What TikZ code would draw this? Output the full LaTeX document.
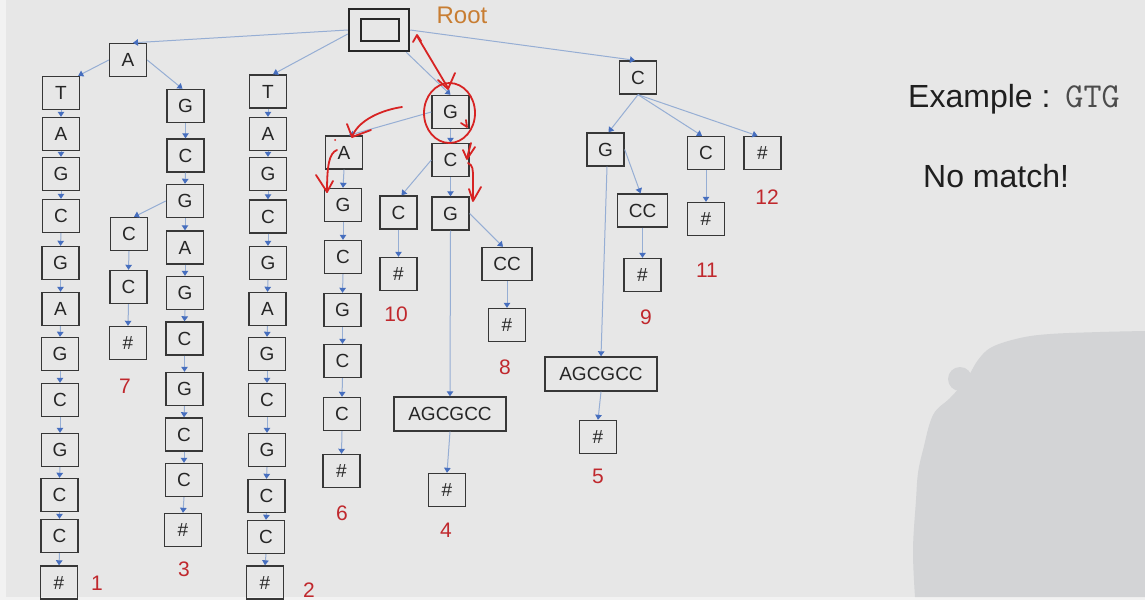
\documentclass[tikz,border=0pt]{standalone}
\usepackage{fontspec}
\setmainfont{Liberation Sans}
\usetikzlibrary{arrows.meta,calc}
\definecolor{bg}{RGB}{231,231,231}
\definecolor{edgebg}{RGB}{242,242,242}
\definecolor{blobc}{RGB}{211,212,214}
\definecolor{lineblue}{RGB}{150,174,212}
\definecolor{tipblue}{RGB}{70,110,190}
\definecolor{boxc}{RGB}{55,55,55}
\definecolor{numred}{RGB}{192,40,45}
\definecolor{penred}{RGB}{215,35,35}
\definecolor{rootor}{RGB}{200,125,50}
\begin{document}
\begin{tikzpicture}[x=1pt,y=-1pt,
  bx/.style={draw=boxc,line width=1.4pt,minimum width=37pt,minimum height=33pt,inner sep=0pt,font=\fontsize{19}{21}\selectfont,text=black!85},
  wbx/.style={bx,minimum width=50pt},
  lbx/.style={bx,minimum width=112pt,minimum height=34pt},
  edge/.style={draw=lineblue,line width=1pt,-{Triangle[width=6.5pt,length=5pt,color=tipblue]}},
  num/.style={text=numred,font=\fontsize{21}{24}\selectfont,inner sep=0pt},
  pen/.style={draw=penred,line width=1.8pt,line cap=round,line join=round}]
% background
\fill[bg] (0,0) rectangle (1145,600);
\useasboundingbox (0,0) rectangle (1145,600);
\fill[edgebg] (0,0) rectangle (6,600);
\fill[edgebg] (0,597) rectangle (1145,600);
% blob
\fill[blobc] plot[smooth,tension=0.6] coordinates {(1145,331) (1100,332) (1050,334) (1020,338) (992,347) (978,360) (966,380) (950,398) (933,415) (923,450) (918,473) (916,500) (913,550) (915,597)} -- (1145,597) -- cycle;
\fill[blobc] (960,379) circle (12);

% root
\node[draw=black!85,line width=2.5pt,minimum width=60pt,minimum height=42pt,inner sep=0pt] (root) at (379,30) {};
\node[draw=black!85,line width=2.2pt,minimum width=38pt,minimum height=22pt,inner sep=0pt] (rin) at (380,30) {};
\node[text=rootor,font=\fontsize{24}{26}\selectfont,inner sep=0pt] (rootlbl) at (462,15) {Root};

% level-1 nodes
\node[bx] (A1) at (128,60) {A};

% column 1
\node[bx] (p1) at (61,93) {T};
\node[bx] (p2) at (61,134) {A};
\node[bx] (p3) at (61,174) {G};
\node[bx] (p4) at (61,216) {C};
\node[bx] (p5) at (60.5,263) {G};
\node[bx] (p6) at (60.5,309) {A};
\node[bx] (p7) at (60,354) {G};
\node[bx] (p8) at (60,400) {C};
\node[bx] (p9) at (60,450) {G};
\node[bx] (p10) at (59.5,495) {C};
\node[bx] (p11) at (59.5,536) {C};
\node[bx] (p12) at (59,582.5) {\#};
\foreach \i/\j in {1/2,2/3,3/4,4/5,5/6,6/7,7/8,8/9,9/10,10/11,11/12}
  \draw[edge] (p\i.south) -- (p\j.north);

% column 2
\node[bx] (q1) at (268,91.5) {T};
\node[bx] (q2) at (268,134) {A};
\node[bx] (q3) at (268,174) {G};
\node[bx] (q4) at (268,216.5) {C};
\node[bx] (q5) at (268,263) {G};
\node[bx] (q6) at (267.5,309) {A};
\node[bx] (q7) at (267,354) {G};
\node[bx] (q8) at (267,400) {C};
\node[bx] (q9) at (267,450) {G};
\node[bx] (q10) at (266.5,496) {C};
\node[bx] (q11) at (266,537) {C};
\node[bx] (q12) at (265,582.5) {\#};
\foreach \i/\j in {1/2,2/3,3/4,4/5,5/6,6/7,7/8,8/9,9/10,10/11,11/12}
  \draw[edge] (q\i.south) -- (q\j.north);

% column 3
\node[bx] (r1) at (185.5,106) {G};
\node[bx] (r2) at (185.5,155.5) {C};
\node[bx] (r3) at (185,201) {G};
\node[bx] (r4) at (185,247.5) {A};
\node[bx] (r5) at (185,293) {G};
\node[bx] (r6) at (184.5,338.5) {C};
\node[bx] (r7) at (184.5,389) {G};
\node[bx] (r8) at (184,434.5) {C};
\node[bx] (r9) at (184,480) {C};
\node[bx] (r10) at (183,530) {\#};
\foreach \i/\j in {1/2,2/3,3/4,4/5,5/6,6/7,7/8,8/9,9/10}
  \draw[edge] (r\i.south) -- (r\j.north);

% column 3b
\node[bx] (s1) at (129,234) {C};
\node[bx] (s2) at (128.5,287) {C};
\node[bx] (s3) at (128,343) {\#};
\draw[edge] (s1.south) -- (s2.north);
\draw[edge] (s2.south) -- (s3.north);

% column 4
\node[bx] (u1) at (344,152.5) {A};
\node[bx] (u2) at (343,205) {G};
\node[bx] (u3) at (343,257) {C};
\node[bx] (u4) at (342.5,310) {G};
\node[bx] (u5) at (342.5,361) {C};
\node[bx] (u6) at (342,414) {C};
\node[bx] (u7) at (341.5,471) {\#};
\foreach \i/\j in {1/2,2/3,3/4,4/5,5/6,6/7}
  \draw[edge] (u\i.south) -- (u\j.north);

% middle subtree
\node[bx] (Gm) at (450.5,112) {G};
\node[bx] (Cm) at (450.5,160) {C};
\node[bx] (Gm2) at (450.5,213.5) {G};
\node[bx] (Cb) at (398.5,212.5) {C};
\node[bx] (hb) at (398.5,274) {\#};
\node[wbx] (CC8) at (507,264) {CC};
\node[bx] (h8) at (507,325) {\#};
\node[lbx] (AG4) at (450,414) {AGCGCC};
\node[bx] (h4) at (447,490) {\#};

% right subtree
\node[bx] (Cr) at (638,77.5) {C};
\node[bx] (Gr) at (605.5,149.5) {G};
\node[bx] (C2) at (706,153) {C};
\node[bx] (h12) at (762.5,153) {\#};
\node[wbx] (CCr) at (642.5,210.5) {CC};
\node[bx] (h9) at (642.5,275) {\#};
\node[bx] (h11) at (706,219) {\#};
\node[lbx] (AGr) at (601,374) {AGCGCC};
\node[bx] (h5) at (598,437) {\#};

% edges from root and branches
\draw[edge] (root.west) -- ([xshift=5pt]A1.north);
\draw[edge] ([yshift=-4pt]root.west) -- ([xshift=5pt]q1.north);
\draw[edge] ([xshift=-4pt]root.south east) -- (Gm.north);
\draw[edge] (root.east) -- ([xshift=-3pt]Cr.north);
\draw[edge] (A1.west) -- ([xshift=-2pt]p1.north east);
\draw[edge] (A1.east) -- ([xshift=-3pt]r1.north);
\draw[edge] (r3.west) -- ([xshift=5pt]s1.north);
\draw[edge] (Gm.west) -- ([xshift=5pt]u1.north);
\draw[edge] (Gm.south) -- (Cm.north);
\draw[edge] (Cm.west) -- ([xshift=3pt]Cb.north);
\draw[edge] (Cm.south) -- (Gm2.north);
\draw[edge] (Cb.south) -- (hb.north);
\draw[edge] (Gm2.east) -- ([xshift=-4pt]CC8.north);
\draw[edge] (CC8.south) -- (h8.north);
\draw[edge] (Gm2.south) -- (AG4.north);
\draw[edge] (AG4.south) -- (h4.north);
\draw[edge] (Cr.south) -- ([xshift=3pt]Gr.north);
\draw[edge] (Cr.south) -- ([xshift=-4pt]C2.north);
\draw[edge] (Cr.south) -- ([xshift=-5pt]h12.north);
\draw[edge] (Gr.east) -- ([xshift=-2pt]CCr.north);
\draw[edge] (CCr.south) -- (h9.north);
\draw[edge] (C2.south) -- (h11.north);
\draw[edge] ([xshift=1.5pt]Gr.south) -- (AGr.north);
\draw[edge] (AGr.south) -- (h5.north);

% leaf numbers
\node[num] (n1) at (97,583) {1};
\node[num] (n2) at (309,590) {2};
\node[num] (n3) at (184,569) {3};
\node[num] (n4) at (446,530) {4};
\node[num] (n5) at (598,476) {5};
\node[num] (n6) at (342,513) {6};
\node[num] (n7) at (125,386) {7};
\node[num] (n8) at (505,367) {8};
\node[num] (n9) at (646,317) {9};
\node[num] (n10) at (396,314) {10};
\node[num] (n11) at (707,270) {11};
\node[num] (n12) at (767,197) {12};

% right-hand text
\node[anchor=base west,inner sep=0pt,text=black!88,font=\fontsize{32}{36}\selectfont] (ex) at (908,107) {Example :\hspace{15pt}{\ttfamily\fontsize{35}{36}\selectfont\color{black!70}GTG}};
\node[anchor=base west,inner sep=0pt,text=black!88,font=\fontsize{32}{36}\selectfont] (nm) at (923,187) {No match!};

% red pen annotations
\draw[pen] (417,36) -- (448,88);
\draw[pen] (413,42) -- (417,35) -- (421,41);
\draw[pen] (438,80) -- (448,89) -- (455,73);
\draw[pen] (449.5,113) ellipse [x radius=25.5, y radius=30];
\draw[pen] (461,123) -- (467,127) -- (466,120);
\draw[pen] (471,143) -- (467,158);
\draw[pen] (463,150) -- (467,159) -- (475,147);
\draw[pen] (468,163) .. controls (473,165) and (473,170) .. (473,178) -- (473,200);
\draw[pen] (469,189) -- (473,201) -- (481,187);
\draw[pen] (402,107) .. controls (382,110) and (358,120) .. (352,137);
\draw[pen] (347,124) -- (352,137) -- (371,130);
\draw[pen] (337,150) .. controls (329,153) and (327,166) .. (327,192);
\draw[pen] (316,175) -- (327,192) -- (333,181);
\fill[penred] (335,140) circle (1);
\end{tikzpicture}
\end{document}
